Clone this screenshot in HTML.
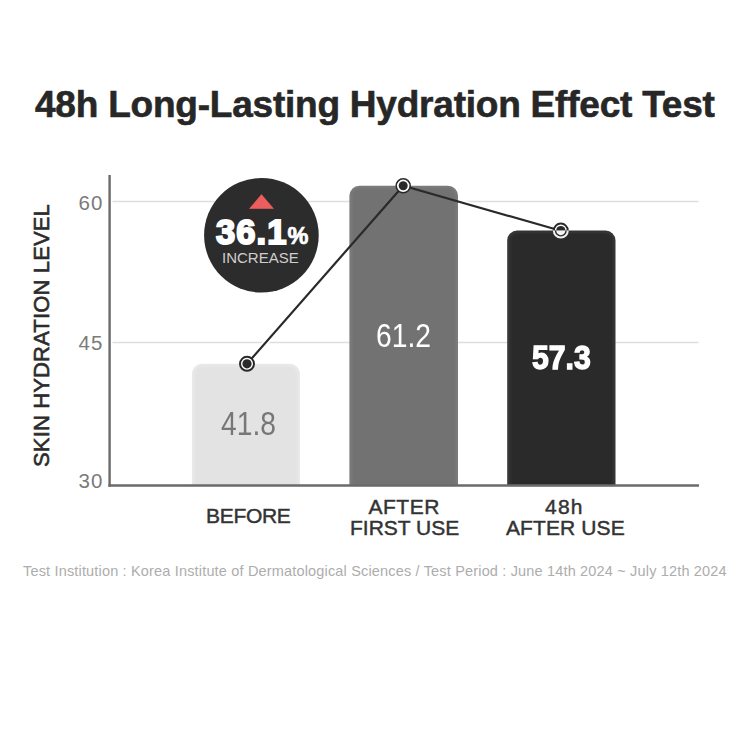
<!DOCTYPE html>
<html><head><meta charset="utf-8">
<style>
html,body{margin:0;padding:0;background:#fff;}
body{width:750px;height:750px;position:relative;overflow:hidden;font-family:"Liberation Sans",Arial,sans-serif;}
.t{position:absolute;white-space:nowrap;line-height:1;margin:0;}
svg{position:absolute;left:0;top:0;}
</style></head>
<body>
<svg width="750" height="750" viewBox="0 0 750 750">
  <!-- gridlines -->
  <line x1="112.5" y1="201.6" x2="698.5" y2="201.6" stroke="#dedede" stroke-width="1.5"/>
  <line x1="112.5" y1="342.5" x2="698.5" y2="342.5" stroke="#dedede" stroke-width="1.5"/>
  <polyline points="247,363.8 403.2,185.8 560.8,230.8" fill="none" stroke="#fff" stroke-width="5.6"/>
  <!-- bars -->
  <defs>
    <filter id="bl" x="-10%" y="-10%" width="120%" height="120%"><feGaussianBlur stdDeviation="0.8"/></filter>
    <clipPath id="above"><rect x="0" y="0" width="750" height="230.5"/></clipPath>
    <clipPath id="below"><rect x="0" y="230.5" width="750" height="300"/></clipPath>
  </defs>
  <path d="M191.9 485 V373.8 A10 10 0 0 1 201.9 363.8 H290 A10 10 0 0 1 300 373.8 V485 Z" fill="#e9e9e9"/>
  <path d="M194.4 485 V373.8 A7.5 7.5 0 0 1 201.9 366.3 H290.0 A7.5 7.5 0 0 1 297.5 373.8 V485 Z" fill="#e3e3e3" filter="url(#bl)"/>
  <path d="M349.4 485 V195.7 A10 10 0 0 1 359.4 185.7 H448 A10 10 0 0 1 458 195.7 V485 Z" fill="#7b7b7b"/>
  <path d="M351.9 485 V195.7 A7.5 7.5 0 0 1 359.4 188.2 H448.0 A7.5 7.5 0 0 1 455.5 195.7 V485 Z" fill="#727272" filter="url(#bl)"/>
  <path d="M507.2 485 V240.5 A10 10 0 0 1 517.2 230.5 H605.5 A10 10 0 0 1 615.5 240.5 V485 Z" fill="#383838"/>
  <path d="M509.7 485 V240.5 A7.5 7.5 0 0 1 517.2 233.0 H605.5 A7.5 7.5 0 0 1 613.0 240.5 V485 Z" fill="#2c2c2c" filter="url(#bl)"/>
  <!-- axes -->
  <line x1="109.6" y1="175" x2="109.6" y2="486.7" stroke="#6a6a6a" stroke-width="2.4"/>
  <line x1="108.4" y1="485.5" x2="699" y2="485.5" stroke="#6a6a6a" stroke-width="2.4"/>
  <!-- bubble -->
  <circle cx="261.4" cy="235.3" r="57.3" fill="#2c2c2c"/>
  <polygon points="261.5,194.6 273.4,208.5 249.6,208.5" fill="#ec5d5d" stroke="#ec5d5d" stroke-width="0.6" stroke-linejoin="round"/>
  <!-- line -->
  <polyline points="247,363.8 403.2,185.8 560.8,230.8" fill="none" stroke="#2a2a2a" stroke-width="2.2"/>
  <!-- markers -->
  <circle cx="247" cy="363.8" r="7" fill="#fff" stroke="#2a2a2a" stroke-width="2"/>
  <circle cx="247" cy="363.8" r="4.6" fill="#2a2a2a"/>
  <circle cx="403.2" cy="185.8" r="7" fill="#fff" stroke="#2a2a2a" stroke-width="1.5"/>
  <circle cx="403.2" cy="185.8" r="4.5" fill="#2a2a2a"/>
  <g clip-path="url(#above)">
    <circle cx="560.8" cy="230.6" r="7" fill="#fff" stroke="#2a2a2a" stroke-width="2"/>
    <circle cx="560.8" cy="230.6" r="4.6" fill="#2a2a2a"/>
  </g>
  <g clip-path="url(#below)">
    <circle cx="560.8" cy="230.6" r="7" fill="#2c2c2c" stroke="#f0f0f0" stroke-width="2"/>
    <circle cx="560.8" cy="230.6" r="4.6" fill="#f4f4f4"/>
  </g>
</svg>

<div class="t" id="title" style="left:35px;top:86px;font-size:37px;font-weight:bold;color:#272727;letter-spacing:-0.22px;-webkit-text-stroke:0.6px #272727;">48h Long-Lasting Hydration Effect Test</div>

<div class="t" id="y60" style="left:78.5px;top:192.5px;font-size:20.5px;color:#7a7a7a;letter-spacing:1px;">60</div>
<div class="t" id="y45" style="left:78.5px;top:332.5px;font-size:20.5px;color:#7a7a7a;letter-spacing:1px;">45</div>
<div class="t" id="y30" style="left:78.5px;top:471px;font-size:20.5px;color:#7a7a7a;letter-spacing:1px;">30</div>

<div class="t" id="ytitle" style="left:30.5px;-webkit-text-stroke:0.6px #2b2b2b;top:467px;font-size:22px;color:#2b2b2b;letter-spacing:0.15px;transform-origin:0 0;transform:rotate(-90deg);">SKIN HYDRATION LEVEL</div>

<div class="t" id="pct" style="left:216px;top:215px;font-size:34.5px;letter-spacing:1.1px;font-weight:bold;color:#fff;-webkit-text-stroke:2px #fff;">36.1<span style="font-size:23.5px;-webkit-text-stroke:0.7px #fff;">%</span></div>
<div class="t" id="inc" style="left:222px;top:250px;font-size:15px;color:#cfcfcf;">INCREASE</div>

<div class="t" id="v1" style="left:221px;top:406px;font-size:34px;color:#777;transform-origin:0 0;transform:scaleX(0.83);">41.8</div>
<div class="t" id="v2" style="left:376px;top:318px;font-size:34px;color:#fff;transform-origin:0 0;transform:scaleX(0.83);">61.2</div>
<div class="t" id="v3" style="left:531.5px;top:340.5px;font-size:33.5px;font-weight:bold;color:#fff;-webkit-text-stroke:1.4px #fff;transform-origin:0 0;transform:scaleX(0.9);">57.3</div>

<div class="t" id="l1" style="left:206px;top:505px;font-size:21px;color:#333;-webkit-text-stroke:0.45px #333;letter-spacing:-0.3px;">BEFORE</div>
<div class="t" id="l2a" style="left:368.5px;top:496px;font-size:21px;color:#333;-webkit-text-stroke:0.45px #333;letter-spacing:0.5px;">AFTER</div>
<div class="t" id="l2b" style="left:350px;top:517px;font-size:21px;color:#333;-webkit-text-stroke:0.45px #333;letter-spacing:0.0px;">FIRST USE</div>
<div class="t" id="l3a" style="left:545px;top:496px;font-size:21px;color:#333;-webkit-text-stroke:0.45px #333;letter-spacing:1.2px;">48h</div>
<div class="t" id="l3b" style="left:506px;top:517px;font-size:21px;color:#333;-webkit-text-stroke:0.45px #333;letter-spacing:0.1px;">AFTER USE</div>

<div class="t" id="foot" style="left:23px;top:563.7px;font-size:14.5px;color:#adadad;letter-spacing:0.17px;">Test Institution : Korea Institute of Dermatological Sciences / Test Period : June 14th 2024 ~ July 12th 2024</div>
</body></html>
